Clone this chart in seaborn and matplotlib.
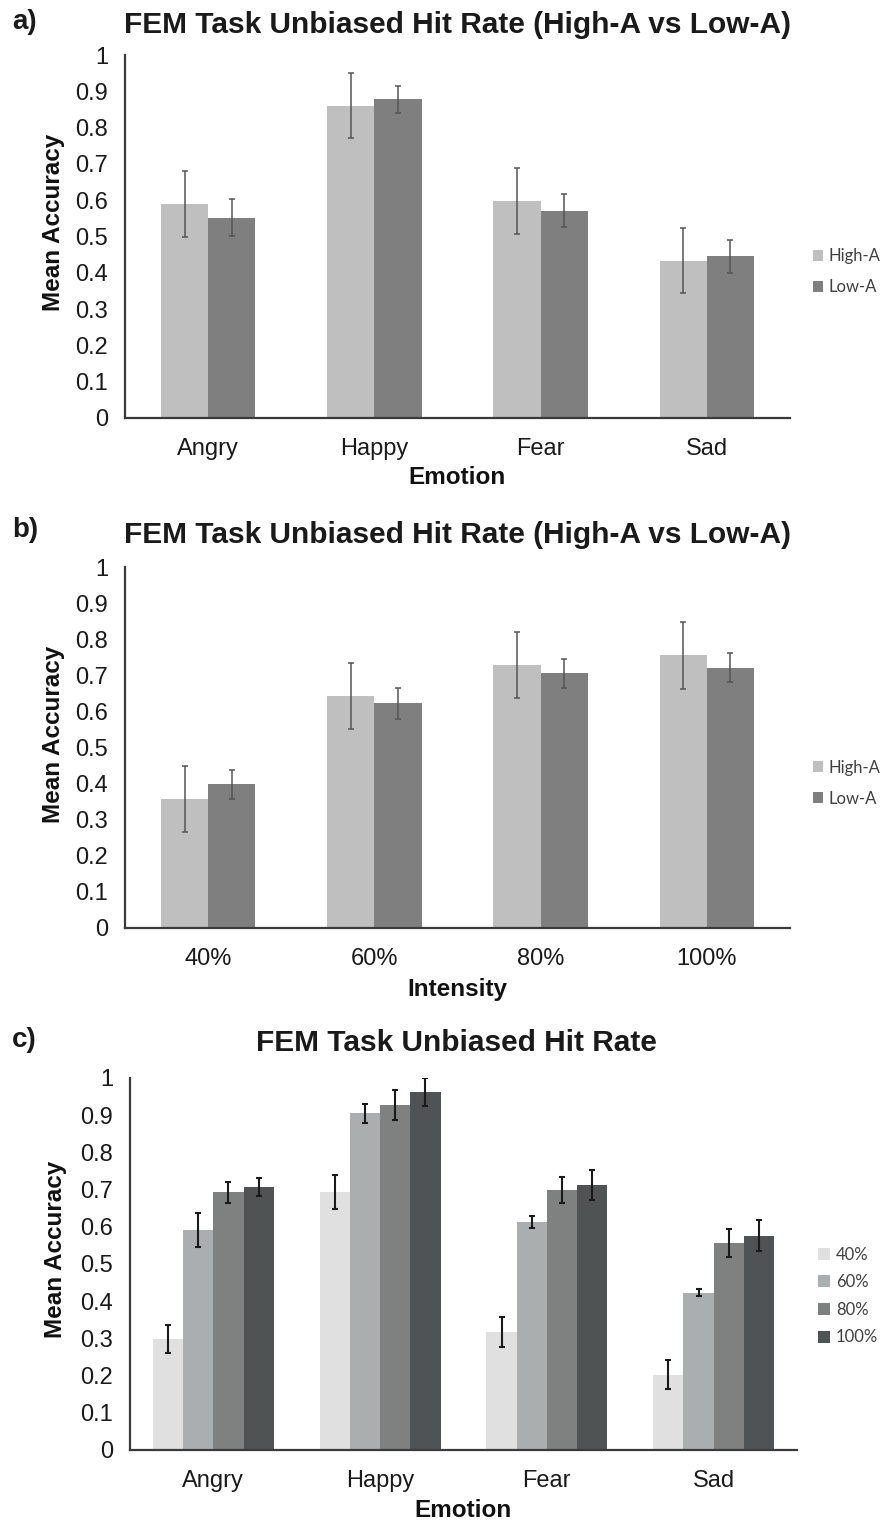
import numpy as np
import pandas as pd
import matplotlib
matplotlib.use("Agg")
import matplotlib.pyplot as plt
import seaborn as sns
from matplotlib.patches import Patch

# ---------------- data ----------------
emotions = ["Angry", "Happy", "Fear", "Sad"]
intensities = ["40%", "60%", "80%", "100%"]
groups = ["High-A", "Low-A"]

# panel a: by emotion
a_high = [0.590, 0.860, 0.598, 0.433]
a_low = [0.552, 0.878, 0.571, 0.445]
a_high_err = [0.090, 0.090, 0.090, 0.090]
a_low_err = [0.050, 0.037, 0.045, 0.045]

# panel b: by intensity
b_high = [0.357, 0.642, 0.728, 0.755]
b_low = [0.398, 0.622, 0.706, 0.721]
b_high_err = [0.092, 0.092, 0.092, 0.092]
b_low_err = [0.040, 0.042, 0.040, 0.040]

# panel c: emotion x intensity
c_40 = [0.299, 0.694, 0.318, 0.202]
c_60 = [0.592, 0.905, 0.613, 0.423]
c_80 = [0.693, 0.928, 0.699, 0.556]
c_100 = [0.707, 0.962, 0.713, 0.576]
c_40_err = [0.038, 0.045, 0.040, 0.039]
c_60_err = [0.045, 0.025, 0.015, 0.009]
c_80_err = [0.028, 0.040, 0.034, 0.037]
c_100_err = [0.024, 0.037, 0.041, 0.041]

ab_colors = ["#bfbfbf", "#7f7f7f"]
c_colors = ["#e0e0e0", "#aaaeaf", "#7f8080", "#4f5354"]

title_ab = "FEM Task Unbiased Hit Rate (High-A vs Low-A)"
title_c = "FEM Task Unbiased Hit Rate"
yticks = [0, 0.1, 0.2, 0.3, 0.4, 0.5, 0.6, 0.7, 0.8, 0.9, 1]
ytick_labels = ["0", "0.1", "0.2", "0.3", "0.4", "0.5", "0.6", "0.7", "0.8", "0.9", "1"]

# ---------------- style ----------------
sns.set_theme(style="white")
plt.rcParams["font.family"] = ["Liberation Sans", "DejaVu Sans"]
plt.rcParams["text.color"] = "#1a1a1a"

W, H = 881, 1525
fig = plt.figure(figsize=(W / 100, H / 100), dpi=100)


def ax_rect(left, right, top, bottom):
    return [left / W, 1 - bottom / H, (right - left) / W, (bottom - top) / H]


def make_df(cats, series, errs, levels, cat_name):
    rows = []
    for lvl, vals, es in zip(levels, series, errs):
        for c, v, e in zip(cats, vals, es):
            rows.append({cat_name: c, "group": lvl, "value": v, "err": e})
    return pd.DataFrame(rows)


def draw_panel(ax, df, cat_name, levels, colors, width, err_color, err_lw, cap):
    sns.barplot(data=df, x=cat_name, y="value", hue="group", hue_order=levels,
                order=list(dict.fromkeys(df[cat_name])), palette=colors,
                width=width, errorbar=None, linewidth=0, saturation=1,
                legend=False, ax=ax)
    for cont, lvl in zip(ax.containers, levels):
        sub = df[df["group"] == lvl]
        xs = [p.get_x() + p.get_width() / 2 for p in cont.patches]
        ax.errorbar(xs, sub["value"].values, yerr=sub["err"].values, fmt="none",
                    ecolor=err_color, elinewidth=err_lw, capsize=cap,
                    capthick=err_lw, zorder=5)
    ax.set_ylim(0, 1)
    ax.set_xlim(-0.5, 3.5)
    ax.set_yticks(yticks)
    ax.set_yticklabels(ytick_labels)
    ax.tick_params(axis="y", length=0, pad=12, labelsize=17, labelcolor="#1a1a1a")
    ax.tick_params(axis="x", length=0, pad=14.5, labelsize=17, labelcolor="#1a1a1a")
    for s in ["top", "right"]:
        ax.spines[s].set_visible(False)
    for s in ["left", "bottom"]:
        ax.spines[s].set_color("#3a3a3a")
        ax.spines[s].set_linewidth(1.6)
    ax.set_ylabel("Mean Accuracy", fontsize=17.5, fontweight="bold", color="#111111")


def legend(ax, levels, colors, x, y, spacing, fs, hl):
    handles = [Patch(facecolor=c, edgecolor="none") for c in colors]
    ax.legend(handles, levels, loc="center left", bbox_to_anchor=(x / W, 1 - y / H),
              bbox_transform=fig.transFigure, frameon=False, handlelength=hl,
              handleheight=hl, handletextpad=0.35, labelspacing=spacing,
              prop={"family": ["Lato", "DejaVu Sans"], "size": fs},
              labelcolor="#404040", borderaxespad=0, borderpad=0)


# ---- panel a ----
ax_a = fig.add_axes(ax_rect(125, 790, 55, 418))
df_a = make_df(emotions, [a_high, a_low], [a_high_err, a_low_err], groups, "Emotion")
draw_panel(ax_a, df_a, "Emotion", groups, ab_colors, 0.567, "#555555", 1.1, 2)
ax_a.set_xlabel("Emotion", fontsize=17.5, fontweight="bold", color="#111111")
ax_a.xaxis.set_label_coords(0.5, -0.132)
ax_a.yaxis.set_label_coords(-0.09, 0.54)
legend(ax_a, groups, ab_colors, 813, 272, 0.9, 12, 0.6)
fig.text(12 / W, 1 - 22 / H, "a)", fontsize=20, fontweight="bold", va="center", ha="left")
fig.text(457 / W, 1 - 25 / H, title_ab, fontsize=21.5, fontweight="bold", va="center", ha="center")

# ---- panel b ----
ax_b = fig.add_axes(ax_rect(125, 790, 567, 928))
df_b = make_df(intensities, [b_high, b_low], [b_high_err, b_low_err], groups, "Intensity")
draw_panel(ax_b, df_b, "Intensity", groups, ab_colors, 0.567, "#555555", 1.1, 2)
ax_b.set_xlabel("Intensity", fontsize=17.5, fontweight="bold", color="#111111")
ax_b.xaxis.set_label_coords(0.5, -0.139)
ax_b.yaxis.set_label_coords(-0.09, 0.535)
legend(ax_b, groups, ab_colors, 813, 783, 0.9, 12, 0.6)
fig.text(12 / W, 1 - 530 / H, "b)", fontsize=20, fontweight="bold", va="center", ha="left")
fig.text(457 / W, 1 - 535 / H, title_ab, fontsize=21.5, fontweight="bold", va="center", ha="center")

# ---- panel c ----
ax_c = fig.add_axes(ax_rect(130, 797, 1078, 1450))
df_c = make_df(emotions, [c_40, c_60, c_80, c_100],
               [c_40_err, c_60_err, c_80_err, c_100_err], intensities, "Emotion")
draw_panel(ax_c, df_c, "Emotion", intensities, c_colors, 0.725, "#1a1a1a", 1.5, 2.5)
ax_c.set_xlabel("Emotion", fontsize=17.5, fontweight="bold", color="#111111")
ax_c.xaxis.set_label_coords(0.5, -0.132)
ax_c.yaxis.set_label_coords(-0.095, 0.54)
legend(ax_c, intensities, c_colors, 818, 1296, 0.7, 12, 0.72)
fig.text(12 / W, 1 - 1040 / H, "c)", fontsize=20, fontweight="bold", va="center", ha="left")
fig.text(456 / W, 1 - 1043 / H, title_c, fontsize=21.5, fontweight="bold", va="center", ha="center")

fig.savefig("out.png", dpi=100, facecolor="white")
